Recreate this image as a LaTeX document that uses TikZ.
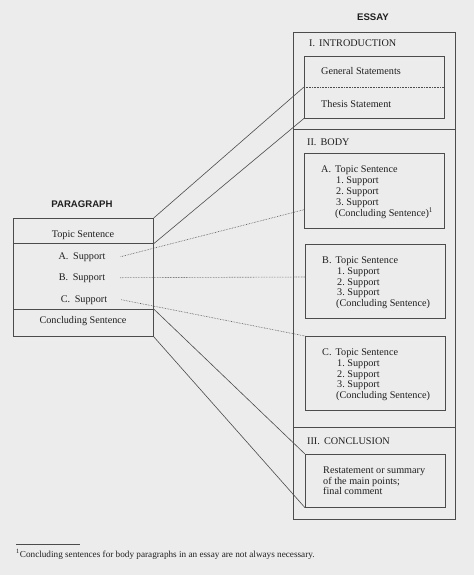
\documentclass[tikz,border=0pt]{standalone}
\usepackage{fontspec}
\setmainfont{Liberation Serif}
\newfontfamily\titlefont{Liberation Sans}
\usetikzlibrary{calc}
\definecolor{bg}{rgb}{0.925,0.925,0.925}
\definecolor{ink}{rgb}{0.12,0.12,0.12}
\definecolor{rulec}{rgb}{0.3,0.3,0.3}
\begin{document}
\begin{tikzpicture}[x=1pt,y=-1pt,
  txt/.style={inner sep=0pt, anchor=base west, text=ink, font=\fontsize{10.2}{11}\selectfont},
  ctxt/.style={txt, anchor=base},
  ttl/.style={inner sep=0pt, anchor=base, text=ink, font=\titlefont\bfseries\fontsize{9.6}{11}\selectfont},
  box/.style={draw=rulec, line width=0.7pt, rectangle, inner sep=0pt, anchor=north west},
  plainbox/.style={rectangle, inner sep=0pt, anchor=north west},
  link/.style={draw=rulec, line width=0.6pt},
  dotlink/.style={draw=rulec, line width=0.6pt, densely dotted},
]
\fill[bg] (0,0) rectangle (474,575);
\useasboundingbox (0,0) rectangle (474,575);

% ---------- Paragraph ----------
\node[ttl] (ptitle) at (82,207) {PARAGRAPH};
\node[box, minimum width=140pt, minimum height=25pt] (ptopic) at (13,218) {};
\node[box, minimum width=140pt, minimum height=66pt] (psup) at (13,243) {};
\node[box, minimum width=140pt, minimum height=27pt] (pconc) at (13,309) {};
\node[ctxt] (tTopic) at (83,237) {Topic Sentence};
\node[ctxt] (tA) at (82,259) {A.\hspace{0.45em}Support};
\node[ctxt] (tB) at (82,280) {B.\hspace{0.45em}Support};
\node[ctxt] (tC) at (84,302) {C.\hspace{0.45em}Support};
\node[ctxt] (tConc) at (83,323) {Concluding Sentence};

% ---------- Essay ----------
\node[ttl] (etitle) at (373,21) {ESSAY};
\node[box, minimum width=162pt, minimum height=97pt] (eintro) at (293,32) {};
\node[box, minimum width=162pt, minimum height=298pt] (ebody) at (293,129) {};
\node[box, minimum width=162pt, minimum height=92pt] (econc) at (293,427) {};

\node[plainbox, minimum width=140pt, minimum height=31pt] (gen) at (304,56) {};
\node[plainbox, minimum width=140pt, minimum height=31pt] (thesis) at (304,87) {};
\draw[draw=rulec, line width=0.7pt] (gen.north west) rectangle (thesis.south east);
\draw[dotlink] (gen.south west) -- (gen.south east);

\node[box, minimum width=140pt, minimum height=75pt] (bodyA) at (304,153) {};
\node[box, minimum width=140pt, minimum height=74pt] (bodyB) at (305,244) {};
\node[box, minimum width=140pt, minimum height=74pt] (bodyC) at (305,336) {};
\node[box, minimum width=140pt, minimum height=53pt] (concbox) at (305,454) {};

\node[txt] (hIntro) at (309,47) {I.\hspace{0.4em}INTRODUCTION};
\node[txt] (hGen) at (321,75) {General Statements};
\node[txt] (hThesis) at (321,107) {Thesis Statement};
\node[txt] (hBody) at (307,145) {II.\hspace{0.4em}BODY};

\node[txt] (aT) at (321,172) {A.\hspace{0.4em}Topic Sentence};
\node[txt] (a1) at (336,183) {1.\ Support};
\node[txt] (a2) at (336,194) {2.\ Support};
\node[txt] (a3) at (336,205) {3.\ Support};
\node[txt] (aC) at (335,216) {(Concluding Sentence)\textsuperscript{1}};

\node[txt] (bT) at (322,263) {B.\hspace{0.4em}Topic Sentence};
\node[txt] (b1) at (337,274) {1.\ Support};
\node[txt] (b2) at (337,285) {2.\ Support};
\node[txt] (b3) at (337,295) {3.\ Support};
\node[txt] (bC) at (336,306) {(Concluding Sentence)};

\node[txt] (cT) at (322,355) {C.\hspace{0.4em}Topic Sentence};
\node[txt] (c1) at (337,366) {1.\ Support};
\node[txt] (c2) at (337,377) {2.\ Support};
\node[txt] (c3) at (337,387) {3.\ Support};
\node[txt] (cC) at (336,398) {(Concluding Sentence)};

\node[txt] (hConc) at (307,444) {III.\hspace{0.4em}CONCLUSION};
\node[txt] (r1) at (323,473) {Restatement or summary};
\node[txt] (r2) at (323,484) {of the main points;};
\node[txt] (r3) at (323,494) {final comment};

% ---------- Connectors ----------
\draw[link] (ptopic.north east) -- (thesis.north west);
\draw[link] (ptopic.south east) -- (thesis.south west);
\draw[link] (pconc.north east) -- (concbox.north west);
\draw[link] (pconc.south east) -- (concbox.south west);
\draw[dotlink] ($(tA.east)+(15,0)$) -- ($(bodyA.south west)+(0,-19)$);
\draw[dotlink] ($(tB.east)+(15,0)$) -- ($(bodyB.north west)+(0,33)$);
\draw[dotlink] ($(tC.east)+(14,0)$) -- (bodyC.north west);

% ---------- Footnote ----------
\draw[draw=rulec, line width=0.6pt] (16,544) -- (80,544);
\node[txt, font=\fontsize{9.2}{10}\selectfont] (fn) at (16,557) {\textsuperscript{1}Concluding sentences for body paragraphs in an essay are not always necessary.};
\end{tikzpicture}
\end{document}
